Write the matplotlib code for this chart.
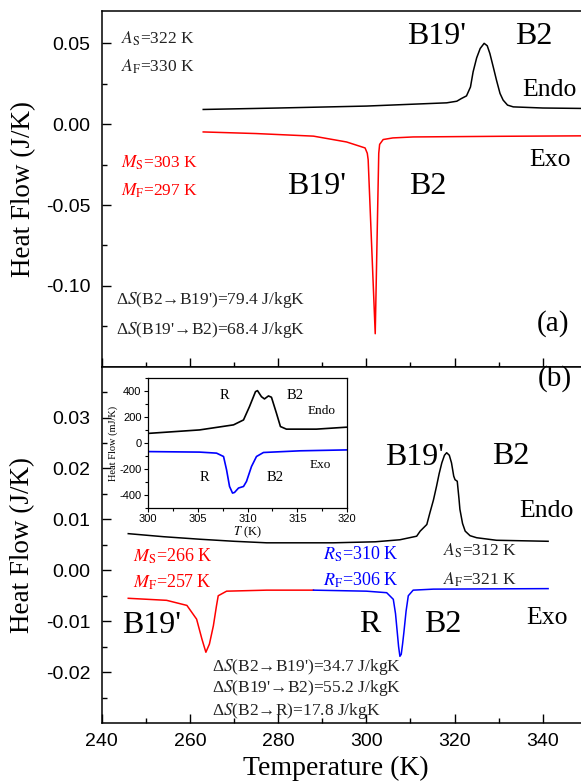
import matplotlib as mpl
mpl.use('Agg')
import numpy as np
import matplotlib.pyplot as plt

mpl.rcParams['font.family'] = ['Liberation Serif', 'DejaVu Serif']
mpl.rcParams['mathtext.fontset'] = 'stix'
mpl.rcParams['axes.unicode_minus'] = False

# (a) 数据 -- 温度 (K), 热流 (J/K)
t_a_endo = [263.0, 280, 300, 318.2, 320.5, 321.5, 322.7, 323.6, 324.2, 325.0, 325.8, 326.7,
            327.4, 328.0, 328.8, 329.5, 330.3, 331.0, 332.0, 333.3, 340, 350]
q_a_endo = [0.0091, 0.0100, 0.0112, 0.0132, 0.0142, 0.0158, 0.0175, 0.0230, 0.0324, 0.0410, 0.0468, 0.0500,
            0.0485, 0.0437, 0.0350, 0.0272, 0.0190, 0.0149, 0.0118, 0.0107, 0.0100, 0.0097]
t_a_exo = [263.0, 275, 288.0, 295.5, 299.7, 300.2, 300.4, 302.0, 302.8, 303.0, 303.8, 306, 310.6, 330, 350]
q_a_exo = [-0.0048, -0.0058, -0.0074, -0.0110, -0.0147, -0.0180, -0.0220, -0.1296, -0.0180, -0.0125,
           -0.0095, -0.0085, -0.0079, -0.0075, -0.0072]

# (b) 数据
t_b_endo = [246.0, 254, 262.3, 270, 277.4, 292.5, 302, 307.6, 311.4, 312.2, 313.7, 314.4, 315.2, 315.9,
            316.5, 317.1, 317.7, 318.2, 318.8, 319.3, 319.8, 320.1, 320.6, 321.0, 321.2, 321.8, 322.4,
            323.5, 325.0, 329.5, 341.2]
q_b_endo = [0.0072, 0.0066, 0.0061, 0.0057, 0.0054, 0.0054, 0.0056, 0.0060, 0.0067, 0.0077, 0.0090, 0.0113,
            0.0138, 0.0165, 0.0190, 0.0211, 0.0226, 0.0231, 0.0226, 0.0211, 0.0185, 0.0178, 0.0175, 0.0140,
            0.0120, 0.0092, 0.0077, 0.0068, 0.0064, 0.0059, 0.0057]
t_b_exo_m = [246.0, 254.7, 259.3, 261.5, 262.7, 263.6, 264.4, 265.3, 266.0, 266.4, 268.3, 277.4, 288.0]
q_b_exo_m = [-0.0055, -0.0059, -0.0069, -0.0096, -0.0135, -0.0161, -0.0145, -0.0109, -0.0070, -0.0050,
             -0.0041, -0.0039, -0.0039]
t_b_exo_r = [288.0, 300, 304.6, 306.1, 306.6, 307.0, 307.3, 307.6, 307.9, 308.2, 308.5, 309.0, 309.5,
             310.6, 315.2, 341.2]
q_b_exo_r = [-0.0039, -0.0041, -0.0044, -0.0057, -0.0085, -0.0122, -0.0150, -0.0169, -0.0165, -0.0145,
             -0.0122, -0.0080, -0.0050, -0.0039, -0.0037, -0.0036]

# 插图 (mJ/K)
t_in_endo = [300.0, 300.4, 305.2, 308.6, 309.6, 310.2, 310.8, 311.0, 311.4, 311.7, 312.1, 312.4, 312.9,
             313.3, 313.9, 316.9, 319.9, 320.0]
q_in_endo = [75, 77, 102, 141, 179, 282, 397, 405, 358, 341, 364, 354, 231, 128, 108, 108, 123, 123]
t_in_exo = [300.0, 305.2, 306.9, 307.6, 307.9, 308.2, 308.5, 308.7, 309.1, 309.6, 309.9, 310.4, 310.9,
            311.6, 315.3, 320.0]
q_in_exo = [-65, -69, -77, -103, -205, -334, -385, -380, -346, -334, -295, -180, -103, -72, -59, -52]

yt_a = [-0.10, -0.05, 0.00, 0.05]
yt_b = [-0.02, -0.01, 0.00, 0.01, 0.02, 0.03]
xt = [240, 260, 280, 300, 320, 340]

W, H = 581, 783
fig = plt.figure(figsize=(W / 100, H / 100), dpi=100)
left = 101.8 / W
width = (586.9 - 101.8) / W
ax1 = fig.add_axes([left, 1 - 366.7 / H, width, 355.7 / H])
ax2 = fig.add_axes([left, 1 - 723 / H, width, 356.3 / H])


def style_main(ax):
    for s in ax.spines.values():
        s.set_linewidth(1.1)
    ax.set_xlim(240, 350)
    ax.set_xticks(xt)
    ax.xaxis.set_minor_locator(mpl.ticker.MultipleLocator(10))
    ax.tick_params(which='both', direction='in', top=False, right=False, width=1.0,
                   labelsize=14, labelfontfamily='Liberation Sans')
    ax.tick_params(which='major', length=6.5)
    ax.tick_params(which='minor', length=3.5)
    ax.tick_params(axis='y', pad=8)
    ax.tick_params(axis='x', pad=7)


style_main(ax1)
style_main(ax2)

# ---- (a)
ax1.plot(t_a_endo, q_a_endo, color='black', lw=1.1)
ax1.plot(t_a_exo, q_a_exo, color='#ff0000', lw=1.1)
ax1.set_ylim(-0.15, 0.07)
ax1.set_yticks(yt_a)
ax1.yaxis.set_minor_locator(mpl.ticker.FixedLocator([-0.125, -0.075, -0.025, 0.025]))
ax1.yaxis.set_major_formatter(mpl.ticker.FormatStrFormatter('%.2f'))
ax1.tick_params(axis='x', labelbottom=False)
ax1.set_ylabel('Heat Flow (J/K)', fontsize=19.5)
ax1.yaxis.set_label_coords(-0.136, 0.5)

ann = dict(fontsize=12.5, va='center')
big = dict(fontsize=23, ha='center', va='center')
ax1.text(244.4, 0.053, '$A_\\mathrm{S}$=322 K', color='#222222', **ann)
ax1.text(244.4, 0.0355, '$A_\\mathrm{F}$=330 K', color='#222222', **ann)
ax1.text(244.4, -0.024, '$M_\\mathrm{S}$=303 K', color='#ff0000', **ann)
ax1.text(244.4, -0.0409, '$M_\\mathrm{F}$=297 K', color='#ff0000', **ann)
ax1.text(243.2, -0.109, "Δ$S$(B2→B19')=79.4 J/kgK", color='#222222', **ann)
ax1.text(243.2, -0.1275, "Δ$S$(B19'→B2)=68.4 J/kgK", color='#222222', **ann)
ax1.text(316.0, 0.054, "B19'", **big)
ax1.text(337.9, 0.054, 'B2', **big)
ax1.text(341.6, 0.021, 'Endo', fontsize=18.5, ha='center', va='center')
ax1.text(341.6, -0.0219, 'Exo', fontsize=18.5, ha='center', va='center')
ax1.text(288.7, -0.0388, "B19'", **big)
ax1.text(314.0, -0.0388, 'B2', **big)
ax1.text(342.4, -0.1234, '(a)', fontsize=21, ha='center', va='center')

# ---- (b)
ax2.plot(t_b_endo, q_b_endo, color='black', lw=1.1)
ax2.plot(t_b_exo_m, q_b_exo_m, color='#ff0000', lw=1.1)
ax2.plot(t_b_exo_r, q_b_exo_r, color='#0000ff', lw=1.1)
ax2.set_ylim(-0.03, 0.04)
ax2.set_yticks(yt_b)
ax2.yaxis.set_minor_locator(mpl.ticker.FixedLocator([-0.025, -0.015, -0.005, 0.005, 0.015, 0.025, 0.035]))
ax2.yaxis.set_major_formatter(mpl.ticker.FormatStrFormatter('%.2f'))
ax2.set_ylabel('Heat Flow (J/K)', fontsize=19.5)
ax2.yaxis.set_label_coords(-0.138, 0.5)
ax2.set_xlabel('Temperature (K)', fontsize=20)
ax2.xaxis.set_label_coords(0.483, -0.093)

ax2.text(247.1, 0.0028, '$M_\\mathrm{S}$=266 K', fontsize=13, color='#ff0000', va='center')
ax2.text(247.1, -0.0024, '$M_\\mathrm{F}$=257 K', fontsize=13, color='#ff0000', va='center')
ax2.text(290.1, 0.0031, '$R_\\mathrm{S}$=310 K', fontsize=13, color='#0000ff', va='center')
ax2.text(290.1, -0.0019, '$R_\\mathrm{F}$=306 K', fontsize=13, color='#0000ff', va='center')
ax2.text(317.4, 0.0038, '$A_\\mathrm{S}$=312 K', color='#222222', **ann)
ax2.text(317.4, -0.0018, '$A_\\mathrm{F}$=321 K', color='#222222', **ann)
ax2.text(264.9, -0.0189, "Δ$S$(B2→B19')=34.7 J/kgK", color='#222222', **ann)
ax2.text(264.9, -0.0232, "Δ$S$(B19'→B2)=55.2 J/kgK", color='#222222', **ann)
ax2.text(264.9, -0.0276, 'Δ$S$(B2→R)=17.8 J/kgK', color='#222222', **ann)
ax2.text(251.3, -0.0109, "B19'", **big)
ax2.text(300.7, -0.0106, 'R', **big)
ax2.text(317.4, -0.0106, 'B2', **big)
ax2.text(340.9, -0.0093, 'Exo', fontsize=18.5, ha='center', va='center')
ax2.text(340.9, 0.0116, 'Endo', fontsize=18.5, ha='center', va='center')
ax2.text(311.0, 0.0222, "B19'", **big)
ax2.text(332.7, 0.0224, 'B2', **big)
ax2.text(342.8, 0.0376, '(b)', fontsize=21, ha='center', va='center')

# ---- 插图
axi = fig.add_axes([147.7 / W, 1 - 508 / H, 199.6 / W, 129.7 / H])
axi.plot(t_in_endo, q_in_endo, color='black', lw=1.2)
axi.plot(t_in_exo, q_in_exo, color='#0000ff', lw=1.2)
axi.set_xlim(300, 320)
axi.set_ylim(-500, 500)
axi.xaxis.set_major_locator(mpl.ticker.MultipleLocator(5))
axi.xaxis.set_minor_locator(mpl.ticker.MultipleLocator(2.5))
axi.yaxis.set_major_locator(mpl.ticker.MultipleLocator(200))
axi.yaxis.set_minor_locator(mpl.ticker.MultipleLocator(100))
for s in axi.spines.values():
    s.set_linewidth(0.9)
axi.tick_params(which='both', direction='out', width=0.8, labelsize=8,
                labelfontfamily='Liberation Sans', pad=1.5)
axi.tick_params(which='major', length=3)
axi.tick_params(which='minor', length=2)
axi.set_xlabel('$T$ (K)', fontsize=9, labelpad=0)
axi.set_ylabel('Heat Flow (mJ/K)', fontsize=7.5, labelpad=1)
axi.text(307.7, 370, 'R', fontsize=10.5, ha='center', va='center')
axi.text(314.8, 370, 'B2', fontsize=10.5, ha='center', va='center')
axi.text(317.4, 250, 'Endo', fontsize=9.5, ha='center', va='center')
axi.text(317.3, -165, 'Exo', fontsize=9.5, ha='center', va='center')
axi.text(305.7, -265, 'R', fontsize=10.5, ha='center', va='center')
axi.text(312.8, -265, 'B2', fontsize=10.5, ha='center', va='center')

fig.savefig('out.png', dpi=100)
